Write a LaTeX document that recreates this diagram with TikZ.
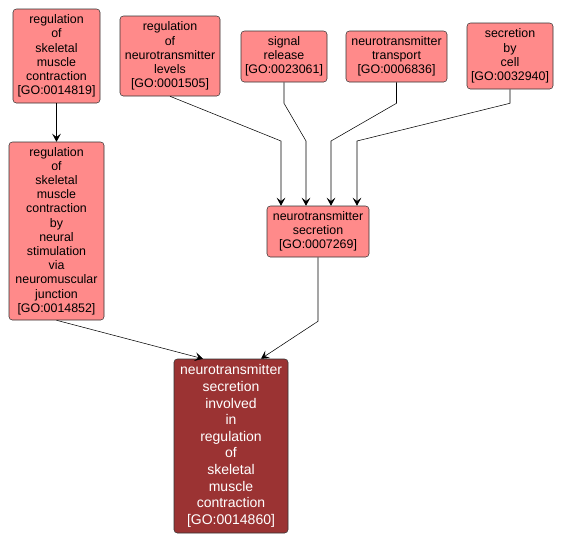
\documentclass[tikz,border=0pt]{standalone}
\usepackage{fontspec}
\setmainfont{Liberation Sans}
\usetikzlibrary{arrows.meta}
\definecolor{gopink}{RGB}{255,138,138}
\definecolor{godark}{RGB}{155,51,51}
\tikzset{
  term/.style={draw=black!80, fill=gopink, rounded corners=2.5pt, align=center, inner sep=1pt,
    font=\fontsize{9.3}{10.65}\selectfont},
  focus/.style={term, fill=godark, text=white, font=\fontsize{10.5}{12.45}\selectfont},
  edge/.style={-{Stealth[length=6pt,width=6.5pt,inset=2.5pt]}, black}
}
\begin{document}
\begin{tikzpicture}[x=0.75pt,y=-0.75pt]
\useasboundingbox (0,0) rectangle (565,544);
\node[term, minimum width=65.25pt, minimum height=70.5pt] (regskel) at (56.5,56) {regulation\\of\\skeletal\\muscle\\contraction\\{[GO:0014819]}};
\node[term, minimum width=75pt, minimum height=60pt] (regnt) at (170,56) {regulation\\of\\neurotransmitter\\levels\\{[GO:0001505]}};
\node[term, minimum width=64.5pt, minimum height=38.25pt] (sigrel) at (284,56.5) {signal\\release\\{[GO:0023061]}};
\node[term, minimum width=75.75pt, minimum height=38.25pt] (nttrans) at (396.5,56.5) {neurotransmitter\\transport\\{[GO:0006836]}};
\node[term, minimum width=64.5pt, minimum height=49.5pt] (seccell) at (510,56) {secretion\\by\\cell\\{[GO:0032940]}};
\node[term, minimum width=71.25pt, minimum height=133.5pt] (regneural) at (56.5,231) {regulation\\of\\skeletal\\muscle\\contraction\\by\\neural\\stimulation\\via\\neuromuscular\\junction\\{[GO:0014852]}};
\node[term, minimum width=76.5pt, minimum height=38.25pt] (ntsec) at (318,231.5) {neurotransmitter\\secretion\\{[GO:0007269]}};
\node[focus, minimum width=85.5pt, minimum height=130.5pt] (ntsecskel) at (231,446) {neurotransmitter\\secretion\\involved\\in\\regulation\\of\\skeletal\\muscle\\contraction\\{[GO:0014860]}};
% edges into neurotransmitter secretion
\draw[edge] (regnt.south) -- (281,141) -- ([xshift=-27.75pt]ntsec.north);
\draw[edge] (sigrel.south) -- ++(0,21) -- (306,141) -- ([xshift=-9pt]ntsec.north);
\draw[edge] (nttrans.south) -- ++(0,21) -- (331,141) -- ([xshift=9.75pt]ntsec.north);
\draw[edge] (seccell.south) -- ++(0,14) -- (357,141) -- ([xshift=29.25pt]ntsec.north);
% the rest
\draw[edge] (regskel) -- (regneural);
\draw[edge] (regneural.south) -- ([xshift=-21pt]ntsecskel.north);
\draw[edge] (ntsec.south) -- ++(0,64) -- ([xshift=22.5pt]ntsecskel.north);
\end{tikzpicture}
\end{document}
